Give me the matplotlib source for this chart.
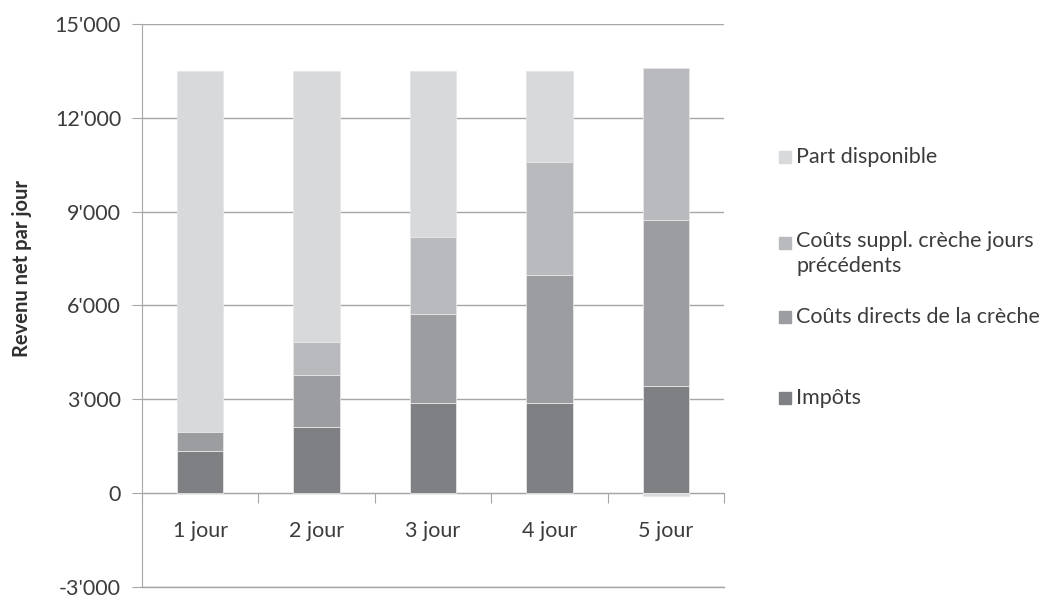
import matplotlib.pyplot as plt
import matplotlib.patches as mpatches
from matplotlib.ticker import FuncFormatter
import numpy as np

plt.rcParams['font.family'] = ['Lato', 'DejaVu Sans']

# données
categories = ["1 jour", "2 jour", "3 jour", "4 jour", "5 jour"]
impots = [1350, 2100, 2870, 2870, 3410]
couts_directs = [600, 1670, 2870, 4100, 5310]
couts_suppl = [0, 1070, 2440, 3630, 4880]
part_disponible = [11550, 8660, 5320, 2900, -80]

series = [
    ("Impôts", impots, "#7f8084"),
    ("Coûts directs de la crèche", couts_directs, "#9c9da1"),
    ("Coûts suppl. crèche jours\nprécédents", couts_suppl, "#b9babe"),
    ("Part disponible", part_disponible, "#d8d9db"),
]

TXT = "#3c3c3c"
GRID = "#a6a6a6"
FS = 15.5

fig = plt.figure(figsize=(10.51, 5.97), dpi=100)
ax = fig.add_axes([0.135, 0.0168, 0.554, 0.9432])

x = np.arange(len(categories))
pos_bottom = np.zeros(len(categories))
neg_bottom = np.zeros(len(categories))
for label, vals, color in series:
    vals = np.array(vals, dtype=float)
    bottom = np.where(vals >= 0, pos_bottom, neg_bottom)
    ax.bar(x, vals, width=0.4, bottom=bottom, color=color,
           edgecolor="#e6e6e6", linewidth=0.6, zorder=3)
    pos_bottom += np.where(vals >= 0, vals, 0)
    neg_bottom += np.where(vals < 0, vals, 0)

ax.set_ylim(-3000, 15000)
ax.set_xlim(-0.5, len(categories) - 0.5)
ax.set_yticks(range(-3000, 15001, 3000))
ax.yaxis.set_major_formatter(FuncFormatter(lambda v, p: "0" if v == 0 else f"{int(v):,}".replace(",", "'")))
ax.grid(True, axis='y', color=GRID, linewidth=1.0, zorder=0)
ax.axhline(-3000, color=GRID, linewidth=1.0, clip_on=False, zorder=0)

# axe x sur la ligne zéro, graduations entre les catégories
ax.spines['bottom'].set_position(('data', 0))
ax.spines['bottom'].set_color(GRID)
ax.spines['left'].set_color(GRID)
ax.spines['top'].set_visible(False)
ax.spines['right'].set_visible(False)
ax.set_xticks(np.arange(-0.5, len(categories), 1.0))
ax.set_xticklabels([])
ax.set_xticks(x, minor=True)
ax.set_xticklabels(categories, minor=True)
ax.tick_params(axis='x', which='major', length=7, color=GRID, direction='out')
ax.tick_params(axis='x', which='minor', length=0, pad=20, labelsize=FS, labelcolor=TXT)
ax.tick_params(axis='y', length=7, color=GRID, labelsize=FS, labelcolor=TXT, pad=8)

fig.text(0.021, 0.551, "Revenu net par jour", rotation=90, ha='center', va='center',
         fontsize=FS - 1, fontweight='bold', color="#303030")

# légende dessinée à la main (espacement irrégulier comme dans l'original)
W, H = fig.get_size_inches() * fig.dpi
legend_rows = [("Part disponible", 157), ("Coûts suppl. crèche jours\nprécédents", 243),
               ("Coûts directs de la crèche", 317), ("Impôts", 398)]
colors = {s[0]: s[2] for s in series}
for label, ypix in legend_rows:
    fig.patches.append(mpatches.Rectangle((779 / W, 1 - (ypix + 6) / H), 12 / W, 12 / H,
                                          transform=fig.transFigure, color=colors[label]))
    if "\n" in label:
        fig.text(796 / W, 1 - (ypix - 12) / H, label, fontsize=FS, color=TXT, va='top',
                 linespacing=1.32)
    else:
        fig.text(796 / W, 1 - ypix / H, label, fontsize=FS, color=TXT, va='center')

fig.savefig("out.png", dpi=100)
